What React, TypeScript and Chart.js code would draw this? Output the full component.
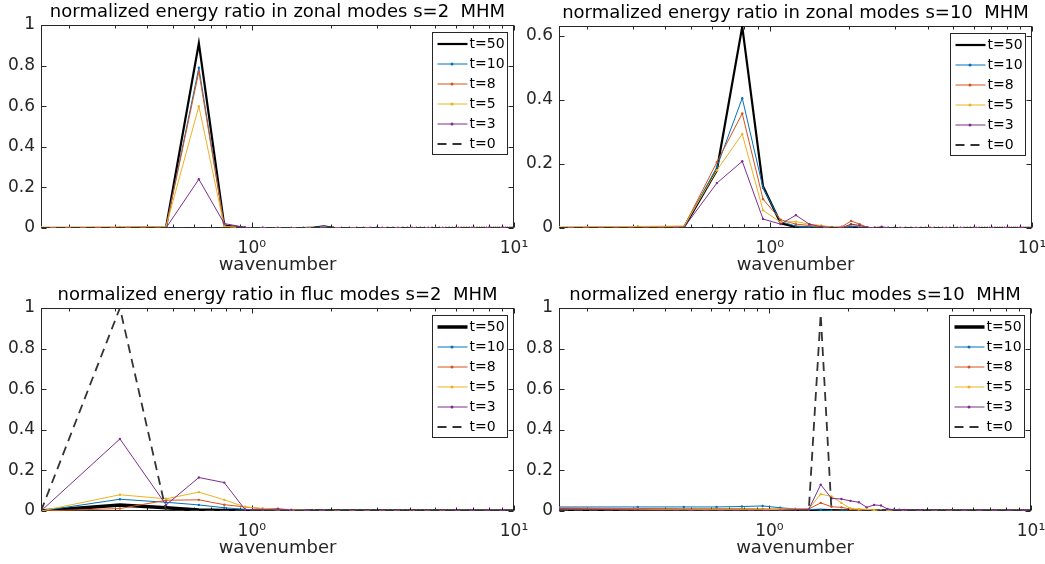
import React, { useEffect, useRef } from 'react';
import { Chart, registerables } from 'chart.js';
Chart.register(...registerables);

// ---------- data ----------
const wavenumbers = [
  0.157, 0.314, 0.471, 0.628, 0.785, 0.942, 1.1, 1.257, 1.414, 1.571, 1.728, 1.885, 2.042, 2.199, 2.356, 2.513,
  2.67, 2.827, 2.985, 3.142, 3.299, 3.456, 3.613, 3.77, 3.927, 4.084, 4.241, 4.398, 4.555, 4.712, 4.869, 5.027,
  5.184, 5.341, 5.498, 5.655, 5.812, 5.969, 6.126, 6.283, 6.44, 6.597, 6.754, 6.912, 7.069, 7.226, 7.383, 7.54,
  7.697, 7.854, 8.011, 8.168, 8.325, 8.482, 8.639, 8.796, 8.954, 9.111, 9.268, 9.425, 9.582, 9.739, 9.896, 10.053,
];

const seriesLabels = ['t=50', 't=10', 't=8', 't=5', 't=3', 't=0'];
const seriesColors = ['#000000', '#0072BD', '#D95319', '#EDB120', '#7E2F8E', '#333333'];

const xMajorTicks = [1, 10];
const xTickLabels = ['10\u2070', '10\u00B9'];
const xMinorTicks = [0.2, 0.3, 0.4, 0.5, 0.6, 0.7, 0.8, 0.9, 2, 3, 4, 5, 6, 7, 8, 9];
const yTicksUnit = [0, 0.2, 0.4, 0.6, 0.8, 1];
const yTicksZonal10 = [0, 0.2, 0.4, 0.6];

const titles = [
  'normalized energy ratio in zonal modes s=2  MHM',
  'normalized energy ratio in zonal modes s=10  MHM',
  'normalized energy ratio in fluc modes s=2  MHM',
  'normalized energy ratio in fluc modes s=10  MHM',
];
const xAxisTitle = 'wavenumber';

// zonal, s=2
const zonal2_t50 = [
  0, 0, 0.004, 0.91, 0.012, 0.001, 0, 0, 0, 0, 0.002, 0.008, 0.001, 0, 0, 0,
  0, 0, 0, 0, 0, 0, 0, 0, 0, 0, 0, 0, 0, 0, 0, 0,
  0, 0, 0, 0, 0, 0, 0, 0, 0, 0, 0, 0, 0, 0, 0, 0,
  0, 0, 0, 0, 0, 0, 0, 0, 0, 0, 0, 0, 0, 0, 0, 0,
];
const zonal2_t10 = [
  0, 0.001, 0.005, 0.79, 0.01, 0.001, 0, 0, 0, 0, 0.002, 0.009, 0.001, 0, 0, 0,
  0, 0, 0, 0, 0, 0, 0, 0, 0, 0, 0, 0, 0, 0, 0, 0,
  0, 0, 0, 0, 0, 0, 0, 0, 0, 0, 0, 0, 0, 0, 0, 0,
  0, 0, 0, 0, 0, 0, 0, 0, 0, 0, 0, 0, 0, 0, 0, 0,
];
const zonal2_t8 = [
  0.003, 0.004, 0.006, 0.77, 0.009, 0.001, 0, 0, 0, 0, 0.001, 0.005, 0.001, 0, 0, 0,
  0, 0, 0, 0, 0, 0, 0, 0, 0, 0, 0, 0, 0, 0, 0, 0,
  0, 0, 0, 0, 0, 0, 0, 0, 0, 0, 0, 0, 0, 0, 0, 0,
  0, 0, 0, 0, 0, 0, 0, 0, 0, 0, 0, 0, 0, 0, 0, 0,
];
const zonal2_t5 = [
  0.004, 0.005, 0.007, 0.6, 0.007, 0.001, 0, 0, 0, 0, 0.001, 0.004, 0, 0, 0, 0,
  0, 0, 0, 0, 0, 0, 0, 0, 0, 0, 0, 0, 0, 0, 0, 0,
  0, 0, 0, 0, 0, 0, 0, 0, 0, 0, 0, 0, 0, 0, 0, 0,
  0, 0, 0, 0, 0, 0, 0, 0, 0, 0, 0, 0, 0, 0, 0, 0,
];
const zonal2_t3 = [
  0, 0, 0.001, 0.24, 0.022, 0.003, 0.001, 0, 0, 0, 0, 0.002, 0, 0, 0, 0,
  0, 0, 0, 0, 0, 0, 0, 0, 0, 0, 0, 0, 0, 0, 0, 0,
  0, 0, 0, 0, 0, 0, 0, 0, 0, 0, 0, 0, 0, 0, 0, 0,
  0, 0, 0, 0, 0, 0, 0, 0, 0, 0, 0, 0, 0, 0, 0, 0,
];
const zonal2_t0 = [
  0, 0, 0, 0, 0, 0, 0, 0, 0, 0, 0, 0, 0, 0, 0, 0,
  0, 0, 0, 0, 0, 0, 0, 0, 0, 0, 0, 0, 0, 0, 0, 0,
  0, 0, 0, 0, 0, 0, 0, 0, 0, 0, 0, 0, 0, 0, 0, 0,
  0, 0, 0, 0, 0, 0, 0, 0, 0, 0, 0, 0, 0, 0, 0, 0,
];

// zonal, s=10
const zonal10_t50 = [
  0, 0.001, 0.003, 0.18, 0.628, 0.13, 0.015, 0.003, 0.001, 0, 0, 0, 0.002, 0.001, 0, 0,
  0, 0, 0, 0, 0, 0, 0, 0, 0, 0, 0, 0, 0, 0, 0, 0,
  0, 0, 0, 0, 0, 0, 0, 0, 0, 0, 0, 0, 0, 0, 0, 0,
  0, 0, 0, 0, 0, 0, 0, 0, 0, 0, 0, 0, 0, 0, 0, 0,
];
const zonal10_t10 = [
  0.001, 0.002, 0.003, 0.19, 0.405, 0.125, 0.02, 0.006, 0.004, 0.002, 0.001, 0.002, 0.006, 0.003, 0.001, 0,
  0, 0, 0, 0, 0, 0, 0, 0, 0, 0, 0, 0, 0, 0, 0, 0,
  0, 0, 0, 0, 0, 0, 0, 0, 0, 0, 0, 0, 0, 0, 0, 0,
  0, 0, 0, 0, 0, 0, 0, 0, 0, 0, 0, 0, 0, 0, 0, 0,
];
const zonal10_t8 = [
  0.002, 0.004, 0.005, 0.205, 0.357, 0.09, 0.026, 0.012, 0.008, 0.003, 0.002, 0.004, 0.022, 0.012, 0.002, 0.001,
  0, 0, 0, 0, 0, 0, 0, 0, 0, 0, 0, 0, 0, 0, 0, 0,
  0, 0, 0, 0, 0, 0, 0, 0, 0, 0, 0, 0, 0, 0, 0, 0,
  0, 0, 0, 0, 0, 0, 0, 0, 0, 0, 0, 0, 0, 0, 0, 0,
];
const zonal10_t5 = [
  0.003, 0.005, 0.006, 0.18, 0.293, 0.055, 0.018, 0.02, 0.012, 0.008, 0.003, 0.002, 0.01, 0.006, 0.001, 0,
  0, 0, 0, 0, 0, 0, 0, 0, 0, 0, 0, 0, 0, 0, 0, 0,
  0, 0, 0, 0, 0, 0, 0, 0, 0, 0, 0, 0, 0, 0, 0, 0,
  0, 0, 0, 0, 0, 0, 0, 0, 0, 0, 0, 0, 0, 0, 0, 0,
];
const zonal10_t3 = [
  0, 0.001, 0.002, 0.14, 0.208, 0.028, 0.012, 0.04, 0.012, 0.004, 0.002, 0.001, 0.012, 0.008, 0.002, 0.001,
  0.004, 0.001, 0, 0, 0, 0, 0, 0, 0, 0, 0, 0, 0, 0, 0, 0,
  0, 0, 0, 0, 0, 0, 0, 0, 0, 0, 0, 0, 0, 0, 0, 0,
  0, 0, 0, 0, 0, 0, 0, 0, 0, 0, 0, 0, 0, 0, 0, 0,
];
const zonal10_t0 = [
  0, 0, 0, 0, 0, 0, 0, 0, 0, 0, 0, 0, 0, 0, 0, 0,
  0, 0, 0, 0, 0, 0, 0, 0, 0, 0, 0, 0, 0, 0, 0, 0,
  0, 0, 0, 0, 0, 0, 0, 0, 0, 0, 0, 0, 0, 0, 0, 0,
  0, 0, 0, 0, 0, 0, 0, 0, 0, 0, 0, 0, 0, 0, 0, 0,
];

// fluc, s=2
const fluc2_t50 = [
  0, 0.03, 0.016, 0.005, 0.003, 0.001, 0, 0, 0, 0, 0, 0, 0, 0, 0, 0,
  0, 0, 0, 0, 0, 0, 0, 0, 0, 0, 0, 0, 0, 0, 0, 0,
  0, 0, 0, 0, 0, 0, 0, 0, 0, 0, 0, 0, 0, 0, 0, 0,
  0, 0, 0, 0, 0, 0, 0, 0, 0, 0, 0, 0, 0, 0, 0, 0,
];
const fluc2_t10 = [
  0, 0.058, 0.043, 0.03, 0.016, 0.008, 0.005, 0.003, 0.002, 0.001, 0, 0, 0, 0, 0, 0,
  0, 0, 0, 0, 0, 0, 0, 0, 0, 0, 0, 0, 0, 0, 0, 0,
  0, 0, 0, 0, 0, 0, 0, 0, 0, 0, 0, 0, 0, 0, 0, 0,
  0, 0, 0, 0, 0, 0, 0, 0, 0, 0, 0, 0, 0, 0, 0, 0,
];
const fluc2_t8 = [
  0, 0.012, 0.053, 0.055, 0.031, 0.02, 0.01, 0.006, 0.003, 0.002, 0.001, 0, 0, 0, 0, 0,
  0, 0, 0, 0, 0, 0, 0, 0, 0, 0, 0, 0, 0, 0, 0, 0,
  0, 0, 0, 0, 0, 0, 0, 0, 0, 0, 0, 0, 0, 0, 0, 0,
  0, 0, 0, 0, 0, 0, 0, 0, 0, 0, 0, 0, 0, 0, 0, 0,
];
const fluc2_t5 = [
  0, 0.08, 0.06, 0.093, 0.055, 0.02, 0.013, 0.012, 0.006, 0.004, 0.002, 0.001, 0, 0, 0, 0,
  0, 0, 0, 0, 0, 0, 0, 0, 0, 0, 0, 0, 0, 0, 0, 0,
  0, 0, 0, 0, 0, 0, 0, 0, 0, 0, 0, 0, 0, 0, 0, 0,
  0, 0, 0, 0, 0, 0, 0, 0, 0, 0, 0, 0, 0, 0, 0, 0,
];
const fluc2_t3 = [
  0, 0.355, 0.03, 0.165, 0.14, 0.007, 0.006, 0.01, 0.005, 0.003, 0.002, 0.001, 0, 0, 0, 0,
  0, 0, 0, 0, 0, 0, 0, 0, 0, 0, 0, 0, 0, 0, 0, 0,
  0, 0, 0, 0, 0, 0, 0, 0, 0, 0, 0, 0, 0, 0, 0, 0,
  0, 0, 0, 0, 0, 0, 0, 0, 0, 0, 0, 0, 0, 0, 0, 0,
];
const fluc2_t0 = [
  0, 1, 0, 0, 0, 0, 0, 0, 0, 0, 0, 0, 0, 0, 0, 0,
  0, 0, 0, 0, 0, 0, 0, 0, 0, 0, 0, 0, 0, 0, 0, 0,
  0, 0, 0, 0, 0, 0, 0, 0, 0, 0, 0, 0, 0, 0, 0, 0,
  0, 0, 0, 0, 0, 0, 0, 0, 0, 0, 0, 0, 0, 0, 0, 0,
];

// fluc, s=10
const fluc10_t50 = [
  0.006, 0.004, 0.003, 0.002, 0.002, 0.001, 0.001, 0.001, 0.001, 0.002, 0.001, 0, 0, 0, 0, 0,
  0, 0, 0, 0, 0, 0, 0, 0, 0, 0, 0, 0, 0, 0, 0, 0,
  0, 0, 0, 0, 0, 0, 0, 0, 0, 0, 0, 0, 0, 0, 0, 0,
  0, 0, 0, 0, 0, 0, 0, 0, 0, 0, 0, 0, 0, 0, 0, 0,
];
const fluc10_t10 = [
  0.02, 0.02, 0.02, 0.02, 0.022, 0.025, 0.016, 0.01, 0.008, 0.005, 0.003, 0.002, 0.001, 0, 0, 0,
  0, 0, 0, 0, 0, 0, 0, 0, 0, 0, 0, 0, 0, 0, 0, 0,
  0, 0, 0, 0, 0, 0, 0, 0, 0, 0, 0, 0, 0, 0, 0, 0,
  0, 0, 0, 0, 0, 0, 0, 0, 0, 0, 0, 0, 0, 0, 0, 0,
];
const fluc10_t8 = [
  0.015, 0.012, 0.01, 0.01, 0.01, 0.01, 0.01, 0.01, 0.01, 0.04, 0.021, 0.018, 0.01, 0.005, 0.003, 0.002,
  0, 0, 0, 0, 0, 0, 0, 0, 0, 0, 0, 0, 0, 0, 0, 0,
  0, 0, 0, 0, 0, 0, 0, 0, 0, 0, 0, 0, 0, 0, 0, 0,
  0, 0, 0, 0, 0, 0, 0, 0, 0, 0, 0, 0, 0, 0, 0, 0,
];
const fluc10_t5 = [
  0.01, 0.008, 0.006, 0.006, 0.006, 0.006, 0.008, 0.01, 0.01, 0.083, 0.072, 0.04, 0.012, 0.01, 0.008, 0.005,
  0.003, 0.001, 0, 0, 0, 0, 0, 0, 0, 0, 0, 0, 0, 0, 0, 0,
  0, 0, 0, 0, 0, 0, 0, 0, 0, 0, 0, 0, 0, 0, 0, 0,
  0, 0, 0, 0, 0, 0, 0, 0, 0, 0, 0, 0, 0, 0, 0, 0,
];
const fluc10_t3 = [
  0.01, 0.005, 0.003, 0.002, 0.002, 0.002, 0.003, 0.006, 0.008, 0.13, 0.062, 0.059, 0.05, 0.043, 0.018, 0.03,
  0.027, 0.01, 0.007, 0.006, 0.005, 0.003, 0.002, 0.001, 0, 0, 0, 0, 0, 0, 0, 0,
  0, 0, 0, 0, 0, 0, 0, 0, 0, 0, 0, 0, 0, 0, 0, 0,
  0, 0, 0, 0, 0, 0, 0, 0, 0, 0, 0, 0, 0, 0, 0, 0,
];
const fluc10_t0 = [
  0, 0, 0, 0, 0, 0, 0, 0, 0, 0.97, 0, 0, 0, 0, 0, 0,
  0, 0, 0, 0, 0, 0, 0, 0, 0, 0, 0, 0, 0, 0, 0, 0,
  0, 0, 0, 0, 0, 0, 0, 0, 0, 0, 0, 0, 0, 0, 0, 0,
  0, 0, 0, 0, 0, 0, 0, 0, 0, 0, 0, 0, 0, 0, 0, 0,
];

// ---------- layout / style ----------
const FONT = "'DejaVu Sans', sans-serif";
const AXIS_COLOR = '#262626';
const W = 1045;
const H = 564;
const Y_AXIS_W = 41;
const TITLE_H = 25;
const X_AXIS_H = 53;

type Panel = {
  title: string;
  series: number[][];
  yMax: number;
  yTicks: number[];
  area: { left: number; right: number; top: number; bottom: number };
  blackWidth: number;
};

const panels: Panel[] = [
  {
    title: titles[0],
    series: [zonal2_t50, zonal2_t10, zonal2_t8, zonal2_t5, zonal2_t3, zonal2_t0],
    yMax: 1, yTicks: yTicksUnit,
    area: { left: 41, right: 514, top: 25, bottom: 228 },
    blackWidth: 2.2,
  },
  {
    title: titles[1],
    series: [zonal10_t50, zonal10_t10, zonal10_t8, zonal10_t5, zonal10_t3, zonal10_t0],
    yMax: 0.63, yTicks: yTicksZonal10,
    area: { left: 559, right: 1032, top: 26, bottom: 228 },
    blackWidth: 2.2,
  },
  {
    title: titles[2],
    series: [fluc2_t50, fluc2_t10, fluc2_t8, fluc2_t5, fluc2_t3, fluc2_t0],
    yMax: 1, yTicks: yTicksUnit,
    area: { left: 41, right: 514, top: 308, bottom: 511 },
    blackWidth: 3.5,
  },
  {
    title: titles[3],
    series: [fluc10_t50, fluc10_t10, fluc10_t8, fluc10_t5, fluc10_t3, fluc10_t0],
    yMax: 1, yTicks: yTicksUnit,
    area: { left: 559, right: 1031, top: 308, bottom: 511 },
    blackWidth: 3.5,
  },
];

function makeFramePlugin(p: Panel) {
  return {
    id: 'frameLegend',
    beforeDatasetsDraw(chart: any) {
      const { ctx, chartArea } = chart;
      const left = Math.round(chartArea.left) + 0.5;
      const right = Math.round(chartArea.right) - 0.5;
      const top = Math.round(chartArea.top) + 0.5;
      const bottom = Math.round(chartArea.bottom) - 0.5;
      const xs = chart.scales.x;
      const ys = chart.scales.y;
      ctx.save();
      ctx.strokeStyle = AXIS_COLOR;
      ctx.lineWidth = 1;
      ctx.setLineDash([]);
      ctx.strokeRect(left, top, right - left, bottom - top);
      ctx.beginPath();
      const xTick = (v: number, len: number) => {
        const px = Math.round(xs.getPixelForValue(v)) + 0.5;
        if (px < left || px > right + 1) return;
        ctx.moveTo(px, bottom); ctx.lineTo(px, bottom - len);
        ctx.moveTo(px, top); ctx.lineTo(px, top + len);
      };
      xMajorTicks.forEach((v) => xTick(v, 5));
      xMinorTicks.forEach((v) => xTick(v, 3));
      p.yTicks.forEach((v) => {
        const py = Math.round(ys.getPixelForValue(v)) + 0.5;
        ctx.moveTo(left, py); ctx.lineTo(left + 5, py);
        ctx.moveTo(right, py); ctx.lineTo(right - 5, py);
      });
      ctx.stroke();
      ctx.restore();
    },
    afterDatasetsDraw(chart: any) {
      const { ctx, chartArea } = chart;
      const bw = 75;
      const bh = 122;
      const bx = Math.round(chartArea.right) - 7 - bw + 0.5;
      const by = Math.round(chartArea.top) + 7 + 0.5;
      ctx.save();
      ctx.fillStyle = '#ffffff';
      ctx.fillRect(bx, by, bw, bh);
      ctx.strokeStyle = AXIS_COLOR;
      ctx.lineWidth = 1;
      ctx.setLineDash([]);
      ctx.strokeRect(bx, by, bw, bh);
      chart.data.datasets.forEach((ds: any, i: number) => {
        const y = Math.round(by + 11 + i * 20);
        const dashed = ds.borderDash && ds.borderDash.length > 0;
        ctx.beginPath();
        ctx.setLineDash(dashed ? [9, 6] : []);
        ctx.strokeStyle = ds.borderColor;
        ctx.lineWidth = ds.borderWidth;
        ctx.moveTo(bx + 5, y);
        ctx.lineTo(dashed ? bx + 29 : bx + 35, y);
        ctx.stroke();
        ctx.setLineDash([]);
        if (ds.pointRadius > 0) {
          ctx.beginPath();
          ctx.fillStyle = ds.borderColor;
          ctx.arc(bx + 19.5, y, ds.pointRadius + 0.3, 0, Math.PI * 2);
          ctx.fill();
        }
        ctx.fillStyle = '#000000';
        ctx.font = `14px ${FONT}`;
        ctx.textAlign = 'left';
        ctx.textBaseline = 'middle';
        ctx.fillText(ds.label, bx + 37, y + 0.5);
      });
      ctx.restore();
    },
  };
}

function buildConfig(p: Panel): any {
  const datasets = p.series.map((vals, i) => {
    const isBlack = i === 0;
    const isZero = i === 5;
    return {
      label: seriesLabels[i],
      data: wavenumbers.map((x, j) => ({ x, y: vals[j] })),
      borderColor: seriesColors[i],
      backgroundColor: seriesColors[i],
      pointBackgroundColor: seriesColors[i],
      borderWidth: isBlack ? p.blackWidth : isZero ? 1.8 : 1,
      borderDash: isZero ? [9, 6] : [],
      pointRadius: isBlack || isZero ? 0 : 1.2,
      pointBorderWidth: 0,
      pointHoverRadius: 0,
      tension: 0,
      fill: false,
      order: 5 - i,
    };
  });
  const pad = {
    left: p.area.left - Y_AXIS_W,
    right: W - p.area.right,
    top: p.area.top - TITLE_H,
    bottom: H - p.area.bottom - X_AXIS_H,
  };
  return {
    type: 'line',
    data: { datasets },
    plugins: [makeFramePlugin(p)],
    options: {
      animation: false,
      responsive: false,
      maintainAspectRatio: false,
      devicePixelRatio: 1,
      events: [],
      layout: { padding: pad },
      plugins: {
        legend: { display: false },
        tooltip: { enabled: false },
        title: {
          display: true,
          text: p.title,
          fullSize: false,
          color: '#000000',
          font: { family: FONT, size: 18, weight: 'normal', lineHeight: 1.2 },
          padding: { top: 1.2, bottom: 2.2 },
        },
      },
      scales: {
        x: {
          type: 'logarithmic',
          min: wavenumbers[0],
          max: 10,
          afterBuildTicks: (s: any) => { s.ticks = xMajorTicks.map((v) => ({ value: v })); },
          afterFit: (s: any) => { s.height = X_AXIS_H; s.paddingLeft = 0; s.paddingRight = 0; },
          grid: { display: false, drawTicks: false },
          border: { display: false },
          ticks: {
            autoSkip: false,
            maxRotation: 0,
            minRotation: 0,
            padding: 10.3,
            color: AXIS_COLOR,
            font: { family: FONT, size: 17 },
            callback: (v: number) => {
              const k = xMajorTicks.indexOf(v);
              return k >= 0 ? xTickLabels[k] : '';
            },
          },
          title: {
            display: true,
            text: xAxisTitle,
            color: AXIS_COLOR,
            font: { family: FONT, size: 18, lineHeight: 1.2 },
            padding: { top: 0, bottom: 5.2 },
          },
        },
        y: {
          type: 'linear',
          min: 0,
          max: p.yMax,
          afterBuildTicks: (s: any) => { s.ticks = p.yTicks.map((v) => ({ value: v })); },
          afterFit: (s: any) => { s.width = Y_AXIS_W; s.paddingTop = 0; s.paddingBottom = 0; },
          grid: { display: false, drawTicks: false },
          border: { display: false },
          ticks: {
            padding: 6,
            color: AXIS_COLOR,
            font: { family: FONT, size: 17 },
            callback: (v: number) => String(v),
          },
        },
      },
    },
  };
}

export default function App() {
  const refs = useRef<(HTMLCanvasElement | null)[]>([]);
  useEffect(() => {
    const charts = panels.map((p, i) => new Chart(refs.current[i] as HTMLCanvasElement, buildConfig(p)));
    return () => charts.forEach((c) => c.destroy());
  }, []);
  return (
    <div style={{ position: 'fixed', left: 0, top: 0, width: W, height: H, background: '#ffffff' }}>
      {panels.map((p, i) => (
        <canvas
          key={i}
          ref={(el) => { refs.current[i] = el; }}
          width={W}
          height={H}
          style={{ position: 'absolute', left: 0, top: 0, width: W, height: H }}
        />
      ))}
    </div>
  );
}
